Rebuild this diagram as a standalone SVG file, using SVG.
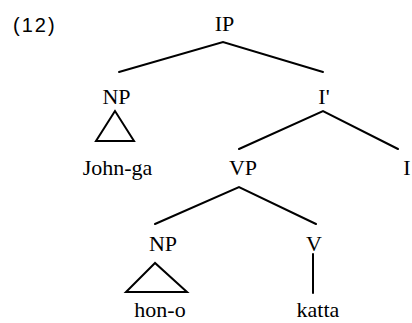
<svg xmlns="http://www.w3.org/2000/svg" width="412" height="323" viewBox="0 0 412 323">
<style>
.lbl{font-family:"Liberation Serif","Times New Roman",serif;font-size:22px;fill:#000;text-anchor:middle}
.num{font-family:"Liberation Sans",Arial,sans-serif;font-size:20px;fill:#000;letter-spacing:2px}
.e{stroke:#000;stroke-width:2;fill:none;stroke-linecap:round;stroke-linejoin:miter}
</style>
<rect width="412" height="323" fill="#fff"/>
<text class="num" x="13" y="32">(12)</text>
<g id="connectors">
<polyline class="e" points="119,72 223,42 323,72"/>
<polyline class="e" points="239,149 323,111 398,149"/>
<polyline class="e" points="155,224 239,187 316,224"/>
<polygon class="e" points="115,111 96,141 134,141"/>
<polygon class="e" points="155,263 126,292 187,292"/>
<line class="e" x1="313" y1="254" x2="313" y2="293"/>
</g>
<g id="IP"><text class="lbl" x="224.5" y="31">IP</text></g>
<g id="NP1"><text class="lbl" x="116.5" y="104">NP</text></g>
<g id="Ibar"><text class="lbl" x="324" y="104">I'</text></g>
<g id="John-ga"><text class="lbl" x="117.5" y="175">John-ga</text></g>
<g id="VP"><text class="lbl" x="243" y="175">VP</text></g>
<g id="I"><text class="lbl" x="407" y="175">I</text></g>
<g id="NP2"><text class="lbl" x="163" y="251">NP</text></g>
<g id="V"><text class="lbl" x="314" y="251">V</text></g>
<g id="hon-o"><text class="lbl" x="160" y="317">hon-o</text></g>
<g id="katta"><text class="lbl" x="318" y="317">katta</text></g>
</svg>
